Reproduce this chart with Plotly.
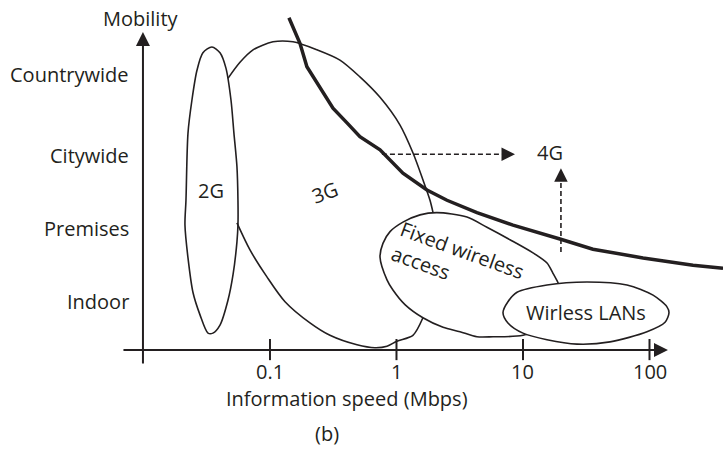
import plotly.graph_objects as go

# ---------------- data (x = log10 of speed in Mbps, y = mobility level) ----------------
speed_tick_pos = [-1, 0, 1, 2]
speed_tick_labels = ["0.1", "1", "10", "100"]
mobility_levels = [1.0, 2.0, 3.0, 4.1]
mobility_labels = ["Indoor", "Premises", "Citywide", "Countrywide"]

g2_speed = [-1.459, -1.395, -1.348, -1.308, -1.285, -1.261, -1.253, -1.253, -1.261, -1.292, -1.332, -1.395,
            -1.451, -1.490, -1.553, -1.609, -1.648, -1.672, -1.664, -1.648, -1.617, -1.577, -1.530, -1.459]
g2_mob = [4.48, 4.40, 4.19, 3.75, 3.30, 2.84, 2.38, 2.04, 1.81, 1.36, 1.01, 0.67,
          0.56, 0.56, 0.81, 1.12, 1.59, 2.04, 2.38, 3.30, 3.75, 4.16, 4.40, 4.48]

g3_upper_speed = [-1.332, -1.237, -1.134, -0.976, -0.818, -0.628, -0.447, -0.289, -0.130, 0.028, 0.130, 0.209, 0.265, 0.289]
g3_upper_mob = [4.05, 4.27, 4.44, 4.55, 4.55, 4.44, 4.30, 4.07, 3.79, 3.41, 3.03, 2.66, 2.38, 2.21]
g3_lower_speed = [0.209, 0.130, 0.004, -0.075, -0.170, -0.312, -0.526, -0.684, -0.881, -1.024, -1.158, -1.261]
g3_lower_mob = [0.77, 0.53, 0.45, 0.38, 0.36, 0.40, 0.53, 0.70, 0.99, 1.33, 1.70, 2.07]

fwa_speed = [-0.130, -0.107, -0.051, 0.051, 0.186, 0.320, 0.557, 0.715, 0.897, 1.079, 1.190, 1.237, 1.277,
             1.332, 1.253, 1.000, 0.763, 0.636, 0.502, 0.368, 0.209, 0.067, -0.028, -0.075, -0.130]
fwa_mob = [1.60, 1.79, 1.95, 2.08, 2.18, 2.21, 2.15, 2.01, 1.84, 1.66, 1.52, 1.38, 1.25,
           1.01, 0.71, 0.53, 0.51, 0.51, 0.58, 0.64, 0.77, 0.95, 1.15, 1.29, 1.60]

lan_speed = [0.842, 0.881, 0.953, 1.190, 1.506, 1.822, 2.028, 2.138, 2.154, 2.123, 1.980, 1.688, 1.427,
             1.190, 1.000, 0.881, 0.842]
lan_mob = [0.84, 0.99, 1.12, 1.22, 1.26, 1.22, 1.08, 0.92, 0.84, 0.71, 0.58, 0.44, 0.41,
           0.47, 0.56, 0.70, 0.84]

limit_speed = [-0.850, -0.763, -0.708, -0.605, -0.502, -0.391, -0.289, -0.130, 0.051, 0.241, 0.399,
               0.636, 0.921, 1.292, 1.553, 1.949, 2.344, 2.581]
limit_mob = [4.88, 4.53, 4.21, 3.93, 3.64, 3.44, 3.25, 3.07, 2.75, 2.52, 2.38,
             2.21, 2.04, 1.85, 1.71, 1.59, 1.49, 1.45]

arrow_h_speed = [-0.115, 0.937]
arrow_h_mob = [3.01, 3.01]
arrow_v_speed = [1.300, 1.300]
arrow_v_mob = [1.67, 2.82]

# axis geometry (diagram frame)
yaxis_speed = -2.004
yaxis_mob = [0.123, 4.685]
xaxis_mob = 0.329
xaxis_speed = [-2.170, 2.146]
tick_mob = [0.19, 0.48]

INK = "#231f20"
FONT = "Open Sans"
FS = 20

fig = go.Figure()

def outline(xs, ys, width=1.6, shape="spline", fill=None, dash=None):
    fig.add_trace(go.Scatter(
        x=xs, y=ys, mode="lines",
        line=dict(color=INK, width=width, shape=shape, smoothing=0.8 if shape == "spline" else None, dash=dash),
        fill=fill, fillcolor="white" if fill else None, hoverinfo="skip", showlegend=False))

outline(g2_speed, g2_mob)
outline(g3_upper_speed, g3_upper_mob)
outline(g3_lower_speed, g3_lower_mob)
outline(fwa_speed, fwa_mob, fill="toself")
outline(lan_speed, lan_mob, fill="toself")
outline(limit_speed, limit_mob, width=3.5, shape="linear")

# dashed arrow shafts
h_end = arrow_h_speed[1] - 0.09
outline([arrow_h_speed[0], h_end], arrow_h_mob, width=1.6, shape="linear", dash="5px,3px")
v_end = arrow_v_mob[1] - 0.17
outline(arrow_v_speed, [arrow_v_mob[0], v_end], width=1.6, shape="linear", dash="5px,3px")

annotations = []
# arrow heads for dashed arrows
annotations.append(dict(x=arrow_h_speed[1], y=arrow_h_mob[1], ax=h_end, ay=arrow_h_mob[1],
                        xref="x", yref="y", axref="x", ayref="y", text="", showarrow=True,
                        arrowhead=2, arrowwidth=1.5, arrowsize=1.8, arrowcolor=INK))
annotations.append(dict(x=arrow_v_speed[1], y=arrow_v_mob[1], ax=arrow_v_speed[1], ay=v_end,
                        xref="x", yref="y", axref="x", ayref="y", text="", showarrow=True,
                        arrowhead=2, arrowwidth=1.5, arrowsize=1.8, arrowcolor=INK))
# axes with arrows
annotations.append(dict(x=yaxis_speed, y=yaxis_mob[1], ax=yaxis_speed, ay=yaxis_mob[0],
                        xref="x", yref="y", axref="x", ayref="y", text="", showarrow=True,
                        arrowhead=2, arrowwidth=2, arrowsize=1.4, arrowcolor=INK))
annotations.append(dict(x=xaxis_speed[1], y=xaxis_mob, ax=xaxis_speed[0], ay=xaxis_mob,
                        xref="x", yref="y", axref="x", ayref="y", text="", showarrow=True,
                        arrowhead=2, arrowwidth=2, arrowsize=1.4, arrowcolor=INK))

def label(text, x, y, xanchor="center", angle=0, align="center"):
    annotations.append(dict(x=x, y=y, xref="x", yref="y", text=text, showarrow=False,
                            xanchor=xanchor, yanchor="middle", textangle=angle, align=align,
                            font=dict(family=FONT, size=FS, color=INK)))

for lvl, txt in zip(mobility_levels, mobility_labels):
    label(txt, -2.099, lvl, xanchor="right")
for pos, txt in zip(speed_tick_pos, speed_tick_labels):
    label(txt, pos, 0.041)
label("Mobility", -2.020, 4.863)
label("Information speed (Mbps)", -0.391, -0.342)
label("(b)", -0.550, -0.808)
label("2G", -1.466, 2.52)
label("3G", -0.565, 2.48, angle=-20)
label("4G", 1.213, 3.03)
label("Fixed wireless<br>access", 0.486, 1.534, angle=20, align="left")
label("Wirless LANs", 1.498, 0.836)

shapes = []
for pos in speed_tick_pos:
    shapes.append(dict(type="line", xref="x", yref="y", x0=pos, x1=pos, y0=tick_mob[0], y1=tick_mob[1],
                       line=dict(color=INK, width=2)))

fig.update_layout(
    width=723, height=449,
    margin=dict(l=0, r=0, t=0, b=0),
    paper_bgcolor="white", plot_bgcolor="white",
    xaxis=dict(range=[-3.134, 2.581], visible=False, fixedrange=True),
    yaxis=dict(range=[-1.027, 5.123], visible=False, fixedrange=True),
    annotations=annotations, shapes=shapes, showlegend=False,
)

fig.write_html("out.html", config={"displayModeBar": False},
               post_script="document.body.style.margin='0px';document.body.style.overflow='hidden';")
